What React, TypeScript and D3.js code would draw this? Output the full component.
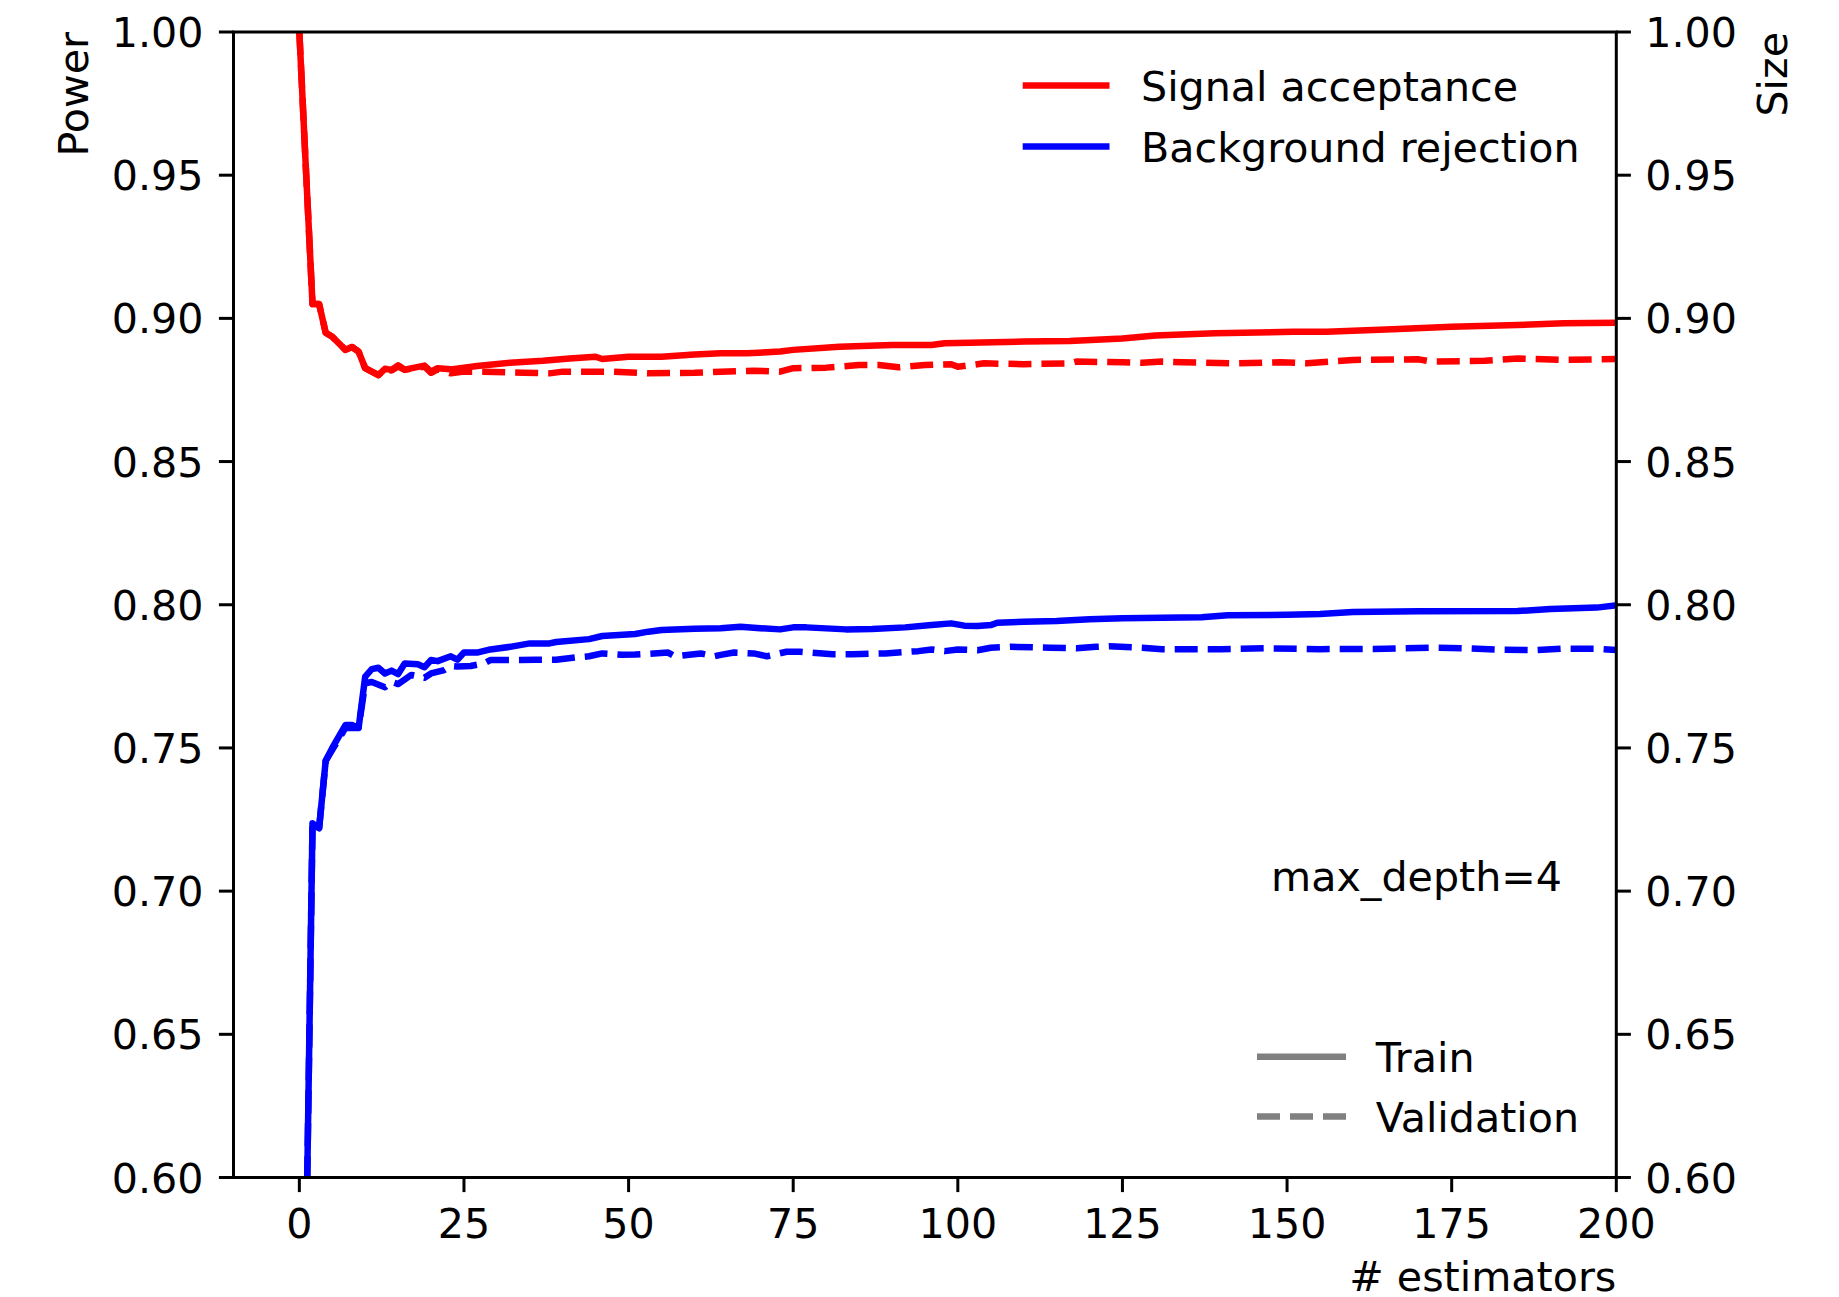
import React from "react";
import * as d3 from "d3";

// [n_estimators, value] pairs
const signalTrain: [number, number][] = [
  [0, 1.0], [1, 0.952], [2, 0.905], [3, 0.905], [4, 0.895], [5, 0.8936], [7, 0.889], [8, 0.89],
  [9, 0.8884], [10, 0.8826], [12, 0.8802], [13, 0.8824], [14, 0.882], [15, 0.8836], [16, 0.8821],
  [19, 0.8835], [20, 0.8814], [21, 0.8826], [23, 0.8822], [27, 0.8834], [32, 0.8845], [37, 0.8852],
  [41, 0.886], [45, 0.8866], [46, 0.8858], [50, 0.8866], [55, 0.8866], [60, 0.8874], [64, 0.8878],
  [68, 0.8878], [73, 0.8884], [75, 0.889], [82, 0.8901], [90, 0.8907], [96, 0.8907], [98, 0.8913],
  [110, 0.8919], [117, 0.8921], [125, 0.893], [130, 0.894], [139, 0.8948], [151, 0.8953],
  [156, 0.8953], [166, 0.8962], [175, 0.8971], [185, 0.8977], [192, 0.8983], [200, 0.8985],
];

const signalVal: [number, number][] = [
  [0, 1.0], [1, 0.952], [2, 0.905], [3, 0.905], [4, 0.895], [5, 0.8936], [7, 0.889], [8, 0.89],
  [9, 0.8884], [10, 0.8826], [12, 0.8802], [13, 0.8822], [14, 0.8818], [15, 0.8832], [16, 0.882],
  [19, 0.8832], [20, 0.881], [21, 0.8822], [23, 0.8808], [25, 0.8814], [28, 0.8814], [34, 0.881],
  [38, 0.8808], [40, 0.8814], [45, 0.8814], [47, 0.8814], [53, 0.8808], [60, 0.881], [64, 0.8814],
  [69, 0.8817], [73, 0.8814], [75, 0.8826], [80, 0.8828], [85, 0.8837], [88, 0.8837], [91, 0.8829],
  [95, 0.8837], [99, 0.884], [100, 0.8831], [104, 0.8843], [110, 0.884], [117, 0.8843], [118, 0.8849],
  [125, 0.8847], [128, 0.8845], [131, 0.8849], [134, 0.8847], [142, 0.8843], [149, 0.8847],
  [153, 0.8843], [160, 0.8855], [170, 0.8857], [172, 0.8849], [180, 0.8852], [185, 0.886],
  [192, 0.8855], [200, 0.8858],
];

const backgroundTrain: [number, number][] = [
  [0, 0.415], [1, 0.569], [2, 0.7237], [3, 0.722], [4, 0.7455], [5, 0.75], [7, 0.758], [8, 0.758],
  [9, 0.757], [10, 0.7749], [11, 0.7775], [12, 0.778], [13, 0.776], [14, 0.777], [15, 0.7758],
  [16, 0.7795], [18, 0.7792], [19, 0.7782], [20, 0.7807], [21, 0.7803], [23, 0.782], [24, 0.7808],
  [25, 0.7833], [27, 0.7833], [29, 0.7844], [32, 0.7853], [35, 0.7865], [38, 0.7865], [39, 0.787],
  [44, 0.788], [46, 0.7891], [51, 0.7898], [53, 0.7906], [55, 0.7912], [60, 0.7916], [64, 0.7918],
  [67, 0.7923], [70, 0.7918], [73, 0.7914], [75, 0.7921], [77, 0.7921], [83, 0.7914], [87, 0.7915],
  [92, 0.7921], [96, 0.7929], [99, 0.7935], [101, 0.7927], [103, 0.7926], [105, 0.7929],
  [106, 0.7937], [110, 0.7941], [115, 0.7943], [120, 0.7949], [125, 0.7953], [131, 0.7955],
  [137, 0.7956], [141, 0.7963], [150, 0.7965], [155, 0.7968], [160, 0.7975], [170, 0.7977],
  [185, 0.7978], [190, 0.7985], [197, 0.799], [200, 0.7998],
];

const backgroundVal: [number, number][] = [
  [0, 0.415], [1, 0.569], [2, 0.7237], [3, 0.722], [4, 0.7455], [5, 0.7493], [7, 0.757], [8, 0.757],
  [9, 0.757], [10, 0.7726], [11, 0.773], [13, 0.7712], [14, 0.7731], [15, 0.7723], [17, 0.7755],
  [19, 0.7745], [20, 0.776], [22, 0.7772], [23, 0.7786], [24, 0.7784], [26, 0.7786], [28, 0.7795],
  [29, 0.7807], [32, 0.7807], [36, 0.7808], [39, 0.7808], [42, 0.7816], [44, 0.782], [46, 0.783],
  [49, 0.7825], [51, 0.7826], [56, 0.7833], [57, 0.782], [61, 0.783], [63, 0.782], [64, 0.7825],
  [66, 0.7833], [69, 0.783], [71, 0.782], [74, 0.7836], [76, 0.7836], [81, 0.7827], [84, 0.7827],
  [89, 0.783], [94, 0.7838], [96, 0.7844], [98, 0.7838], [100, 0.7844], [103, 0.7841], [105, 0.785],
  [108, 0.7853], [114, 0.785], [118, 0.7848], [121, 0.7853], [123, 0.7855], [128, 0.785],
  [131, 0.7845], [140, 0.7845], [147, 0.7848], [155, 0.7845], [165, 0.7846], [172, 0.785],
  [177, 0.7848], [182, 0.7843], [188, 0.7842], [192, 0.7847], [197, 0.7846], [200, 0.7842],
];

const xTicks = [0, 25, 50, 75, 100, 125, 150, 175, 200];
const yTicks = [0.6, 0.65, 0.7, 0.75, 0.8, 0.85, 0.9, 0.95, 1.0];

const W = 1839;
const H = 1297;
const L = 233.5;
const R = 1616.3;
const T = 32;
const B = 1177.5;
const FONT = "DejaVu Sans";
const FS = 41.2;
const TICK = 14.6;
const LW = 6.5;
const DASH = "23,10";

export default function App() {
  const x = d3.scaleLinear().domain([-10, 200]).range([L, R]);
  const y = d3.scaleLinear().domain([0.6, 1.0]).range([B, T]);
  const line = d3
    .line<[number, number]>()
    .x((d) => x(d[0]))
    .y((d) => y(d[1]));

  const series = [
    { data: signalTrain, color: "#ff0000", dash: undefined },
    { data: signalVal, color: "#ff0000", dash: DASH },
    { data: backgroundTrain, color: "#0000ff", dash: undefined },
    { data: backgroundVal, color: "#0000ff", dash: DASH },
  ];

  return (
    <svg
      width={W}
      height={H}
      style={{ position: "absolute", left: 0, top: 0, background: "#fff" }}
      fontFamily={FONT}
    >
      <defs>
        <clipPath id="plot">
          <rect x={L} y={T} width={R - L} height={B - T} />
        </clipPath>
      </defs>
      <rect x={0} y={0} width={W} height={H} fill="#fff" />

      <g clipPath="url(#plot)">
        {series.map((s, i) => (
          <path
            key={i}
            d={line(s.data) || ""}
            fill="none"
            stroke={s.color}
            strokeWidth={LW}
            strokeDasharray={s.dash}
            strokeLinejoin="round"
            strokeLinecap={s.dash ? "butt" : "square"}
          />
        ))}
      </g>

      {/* spines */}
      <rect x={L} y={T} width={R - L} height={B - T} fill="none" stroke="#000" strokeWidth={3} />

      {/* x ticks */}
      {xTicks.map((t) => (
        <g key={"x" + t}>
          <line x1={x(t)} x2={x(t)} y1={B} y2={B + TICK} stroke="#000" strokeWidth={3} />
          <text x={x(t)} y={B + 60} fontSize={FS} textAnchor="middle" fill="#000">
            {t}
          </text>
        </g>
      ))}

      {/* y ticks left and right */}
      {yTicks.map((t) => (
        <g key={"y" + t}>
          <line x1={L - TICK} x2={L} y1={y(t)} y2={y(t)} stroke="#000" strokeWidth={3} />
          <text x={L - 30} y={y(t) + 15} fontSize={FS} textAnchor="end" fill="#000">
            {t.toFixed(2)}
          </text>
          <line x1={R} x2={R + TICK} y1={y(t)} y2={y(t)} stroke="#000" strokeWidth={3} />
          <text x={R + 29} y={y(t) + 15} fontSize={FS} textAnchor="start" fill="#000">
            {t.toFixed(2)}
          </text>
        </g>
      ))}

      {/* axis labels */}
      <text transform={`translate(88,${T}) rotate(-90)`} fontSize={FS} textAnchor="end" fill="#000">
        Power
      </text>
      <text transform={`translate(1787,${T}) rotate(-90)`} fontSize={FS} textAnchor="end" fill="#000">
        Size
      </text>
      <text x={R} y={1291} fontSize={FS} textAnchor="end" fill="#000">
        # estimators
      </text>

      {/* legend 1 */}
      <line x1={1022.7} x2={1109.5} y1={85.6} y2={85.6} stroke="#ff0000" strokeWidth={LW} />
      <text x={1141} y={85.6 + 15} fontSize={FS} fill="#000">
        Signal acceptance
      </text>
      <line x1={1022.7} x2={1109.5} y1={146.6} y2={146.6} stroke="#0000ff" strokeWidth={LW} />
      <text x={1141} y={146.6 + 15} fontSize={FS} fill="#000">
        Background rejection
      </text>

      {/* annotation */}
      <text x={1562} y={891} fontSize={FS} textAnchor="end" fill="#000">
        max_depth=4
      </text>

      {/* legend 2 */}
      <line x1={1257} x2={1346} y1={1056.7} y2={1056.7} stroke="#808080" strokeWidth={LW} />
      <text x={1375.7} y={1056.7 + 15} fontSize={FS} fill="#000">
        Train
      </text>
      <line
        x1={1257}
        x2={1346}
        y1={1116.5}
        y2={1116.5}
        stroke="#808080"
        strokeWidth={LW}
        strokeDasharray={DASH}
      />
      <text x={1375.7} y={1116.5 + 15} fontSize={FS} fill="#000">
        Validation
      </text>
    </svg>
  );
}
